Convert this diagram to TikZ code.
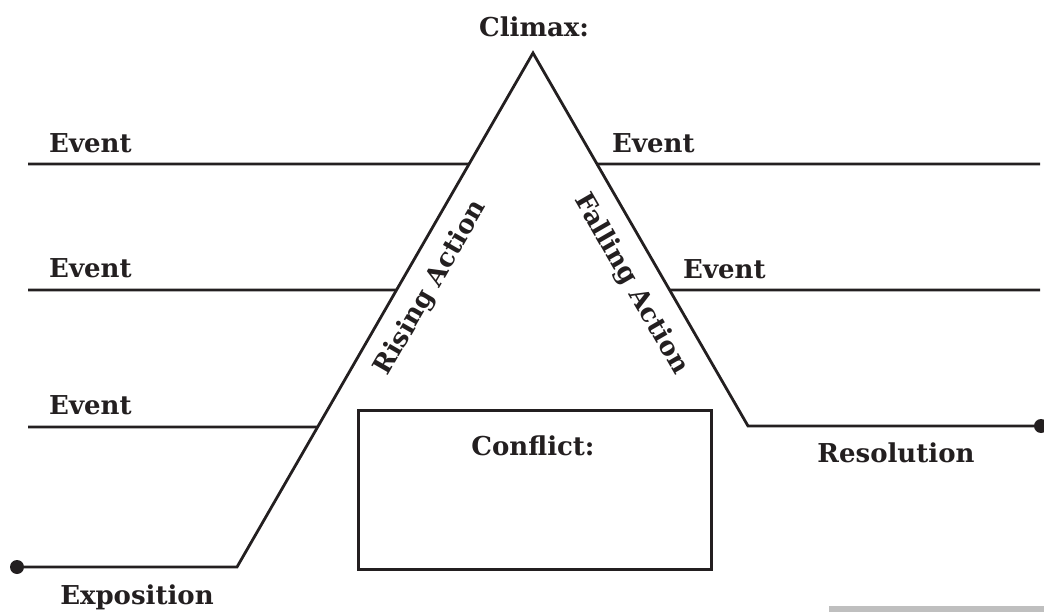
\documentclass[tikz,border=0pt]{standalone}
\usepackage{fontspec}
\setmainfont{DejaVu Serif}
\usepackage{tikz}
\usetikzlibrary{positioning, calc}
\definecolor{inkline}{RGB}{35,31,32}
\definecolor{barfill}{RGB}{191,191,191}
\tikzset{
  plotline/.style={draw=inkline, line width=2.8pt, line join=miter},
  label/.style={text=inkline, font=\fontsize{26}{30}\selectfont\bfseries, inner sep=0pt},
  dotend/.style={fill=inkline, draw=none}
}

\begin{document}
\begin{tikzpicture}[x=1pt, y=-1pt]
  \useasboundingbox (0,0) rectangle (1044,612);

  % plot line
  \coordinate (start) at (17,567);
  \coordinate (lbase) at (237,567);
  \coordinate (apex) at (533,53);
  \coordinate (rbase) at (748,426);
  \coordinate (stop) at (1041,426);
  \draw[plotline] (start) -- (lbase) -- (apex) -- (rbase) -- (stop);
  \fill[dotend] (start) circle (7);
  \fill[dotend] (stop) circle (7);

  % event lines
  \coordinate (ev1l) at (28,164);
  \coordinate (ev2l) at (28,290);
  \coordinate (ev3l) at (28,427);
  \coordinate (ev1r) at (1040,164);
  \coordinate (ev2r) at (1040,290);
  \draw[plotline] (ev1l) -- ($(apex)!0.216!(lbase)$);
  \draw[plotline] (ev2l) -- ($(apex)!0.461!(lbase)$);
  \draw[plotline] (ev3l) -- ($(apex)!0.7276!(lbase)$);
  \draw[plotline] ($(apex)!0.2976!(rbase)$) -- (ev1r);
  \draw[plotline] ($(apex)!0.6354!(rbase)$) -- (ev2r);

  % conflict box
  \node[plotline, rectangle, minimum width=353, minimum height=159, anchor=north west] (conflictbox) at (357,409) {};
  \node[label, anchor=base] (conflict) at (533,455) {Conflict:};

  % labels
  \node[label, anchor=base] (climax) at (534,37) {Climax:};
  \node[label, anchor=base west] (event1) at (49,153) {Event};
  \node[label, anchor=base west] (event2) at (49,278) {Event};
  \node[label, anchor=base west] (event3) at (49,414) {Event};
  \node[label, anchor=base west] (event4) at (612,153) {Event};
  \node[label, anchor=base west] (event5) at (683,279) {Event};
  \node[label, anchor=base] (resolution) at (896,462) {Resolution};
  \node[label, anchor=base] (exposition) at (137,604) {Exposition};
  \node[label, rotate=60] (rising) at (431,288) {Rising Action};
  \node[label, rotate=-60] (falling) at (631,284) {Falling Action};

  % grey strip
  \fill[barfill] (829,606) rectangle (1044,612);
\end{tikzpicture}
\end{document}
